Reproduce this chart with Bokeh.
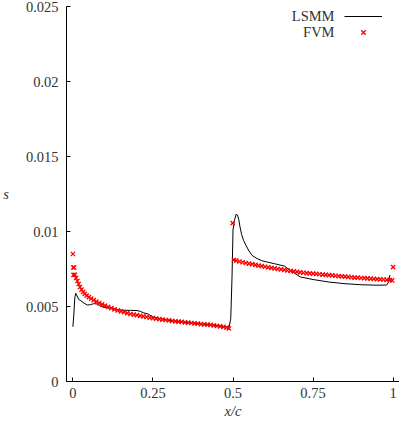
from bokeh.plotting import figure
from bokeh.models import Range1d, FixedTicker, Label, Legend, LegendItem
from bokeh.embed import file_html
from bokeh.resources import INLINE

# ---------------- data ----------------
fvm_x = [0.000, 0.001, 0.004, 0.002, 0.006, 0.010, 0.014, 0.018, 0.022, 0.027,
         0.032, 0.037, 0.043, 0.050, 0.057, 0.065, 0.073, 0.082, 0.091, 0.100,
         0.110, 0.120, 0.130, 0.140, 0.150, 0.160, 0.170, 0.180, 0.190, 0.200,
         0.210, 0.220, 0.230, 0.240, 0.250, 0.260, 0.270, 0.280, 0.290, 0.300,
         0.310, 0.320, 0.330, 0.340, 0.350, 0.360, 0.370, 0.380, 0.390, 0.400,
         0.410, 0.420, 0.430, 0.440, 0.450, 0.460, 0.470, 0.480, 0.487,
         0.499, 0.503, 0.510, 0.520, 0.530, 0.540, 0.550, 0.560, 0.570, 0.580,
         0.590, 0.600, 0.610, 0.620, 0.630, 0.640, 0.650, 0.660, 0.670, 0.680,
         0.690, 0.700, 0.710, 0.720, 0.730, 0.740, 0.750, 0.760, 0.770, 0.780,
         0.790, 0.800, 0.810, 0.820, 0.830, 0.840, 0.850, 0.860, 0.870, 0.880,
         0.890, 0.900, 0.910, 0.920, 0.930, 0.940, 0.950, 0.960, 0.970, 0.980,
         0.990, 0.997, 1.000]
fvm_s = [0.00850, 0.00760, 0.00760, 0.00711, 0.00711, 0.00690, 0.00670, 0.00650, 0.00630, 0.00612,
         0.00597, 0.00584, 0.00572, 0.00562, 0.00552, 0.00542, 0.00533, 0.00522, 0.00514, 0.00506,
         0.00497, 0.00489, 0.00481, 0.00474, 0.00468, 0.00462, 0.00456, 0.00450, 0.00446, 0.00442,
         0.00438, 0.00434, 0.00430, 0.00426, 0.00422, 0.00419, 0.00416, 0.00413, 0.00410, 0.00407,
         0.00404, 0.00401, 0.00399, 0.00397, 0.00394, 0.00392, 0.00390, 0.00388, 0.00386, 0.00383,
         0.00381, 0.00379, 0.00377, 0.00374, 0.00371, 0.00368, 0.00364, 0.00360, 0.00354,
         0.01056, 0.00810, 0.00806, 0.00800, 0.00795, 0.00790, 0.00786, 0.00782, 0.00778, 0.00773,
         0.00769, 0.00765, 0.00761, 0.00757, 0.00754, 0.00750, 0.00747, 0.00744, 0.00740, 0.00737,
         0.00734, 0.00731, 0.00728, 0.00725, 0.00723, 0.00721, 0.00719, 0.00717, 0.00715, 0.00713,
         0.00711, 0.00709, 0.00707, 0.00705, 0.00703, 0.00701, 0.00699, 0.00697, 0.00695, 0.00693,
         0.00692, 0.00690, 0.00689, 0.00688, 0.00686, 0.00684, 0.00683, 0.00681, 0.00680, 0.00678,
         0.00676, 0.00674, 0.00762]

lsmm_x = [0.000, 0.003, 0.006, 0.009, 0.013, 0.018, 0.025, 0.035, 0.045, 0.055,
          0.065, 0.075, 0.085, 0.095, 0.110, 0.125, 0.140, 0.160, 0.180, 0.200,
          0.210, 0.220, 0.235, 0.250, 0.275, 0.300, 0.350, 0.400, 0.450, 0.480,
          0.488, 0.493, 0.497, 0.500, 0.505, 0.510, 0.514, 0.518, 0.522, 0.527,
          0.533, 0.540, 0.550, 0.560, 0.575, 0.590, 0.610, 0.630, 0.660, 0.680,
          0.710, 0.750, 0.800, 0.850, 0.900, 0.950, 0.980, 0.985, 0.990]
lsmm_s = [0.00365, 0.00450, 0.00560, 0.00588, 0.00570, 0.00547, 0.00538, 0.00522, 0.00510, 0.00512,
          0.00519, 0.00517, 0.00506, 0.00496, 0.00490, 0.00485, 0.00479, 0.00475, 0.00474, 0.00473,
          0.00468, 0.00458, 0.00450, 0.00430, 0.00418, 0.00408, 0.00395, 0.00385, 0.00373, 0.00362,
          0.00365, 0.00420, 0.00700, 0.01010, 0.01080, 0.01115, 0.01110, 0.01080, 0.01030, 0.00980,
          0.00940, 0.00910, 0.00870, 0.00840, 0.00820, 0.00805, 0.00795, 0.00785, 0.00770, 0.00740,
          0.00697, 0.00680, 0.00663, 0.00652, 0.00645, 0.00642, 0.00643, 0.00660, 0.00710]

series_names = ["LSMM", "FVM"]
x_ticks = [0, 0.25, 0.5, 0.75, 1]
x_tick_labels = ["0", "0.25", "0.5", "0.75", "1"]
y_ticks = [0, 0.005, 0.01, 0.015, 0.02, 0.025]
y_tick_labels = ["0", "0.005", "0.01", "0.015", "0.02", "0.025"]

FONT = "Liberation Serif"
TXT = "#333333"

p = figure(width=399, height=426, output_backend="svg", toolbar_location=None,
           x_range=Range1d(-0.02, 1.02), y_range=Range1d(0, 0.025),
           min_border_left=65, min_border_right=0, min_border_top=6, min_border_bottom=45)
p.outline_line_color = None
p.xgrid.visible = False
p.ygrid.visible = False
p.background_fill_color = "white"
p.border_fill_color = "white"

line_r = p.line(lsmm_x, lsmm_s, line_color="black", line_width=1)
sc_r = p.scatter(fvm_x, fvm_s, marker="x", size=6, line_color="red", line_width=1.3)

for ax in (p.xaxis[0], p.yaxis[0]):
    ax.axis_line_color = "black"
    ax.axis_line_width = 1
    ax.major_tick_in = 4
    ax.major_tick_out = 0
    ax.major_tick_line_color = "black"
    ax.minor_tick_line_color = None
    ax.major_label_text_font = FONT
    ax.major_label_text_font_size = "14.5px"
    ax.major_label_text_color = TXT
    ax.axis_label_text_font = FONT
    ax.axis_label_text_font_size = "14.5px"
    ax.axis_label_text_font_style = "italic"
    ax.axis_label_text_color = TXT

p.xaxis.ticker = FixedTicker(ticks=x_ticks)
p.xaxis.major_label_overrides = {t: l for t, l in zip(x_ticks, x_tick_labels)}
p.yaxis.ticker = FixedTicker(ticks=y_ticks)
p.yaxis.major_label_overrides = {t: l for t, l in zip(y_ticks, y_tick_labels)}
p.xaxis.major_label_standoff = 6
p.yaxis.major_label_standoff = 8
p.xaxis.axis_label = "x/c"
p.xaxis.axis_label_standoff = 2
p.yaxis.axis_label = "s"
p.yaxis.axis_label_orientation = "horizontal"
p.yaxis.axis_label_standoff = 14

legend = Legend(items=[LegendItem(label=" ", renderers=[line_r]),
                       LegendItem(label=" ", renderers=[sc_r])],
                location=(278, 341), orientation="vertical",
                border_line_color=None, background_fill_alpha=0,
                padding=0, margin=0, spacing=0,
                glyph_width=38, glyph_height=16,
                label_width=0, label_height=16, label_standoff=0,
                label_text_font_size="1px")
p.add_layout(legend)

for i, name in enumerate(series_names):
    p.add_layout(Label(x=268, y=365.5 - 16 * i, x_units="screen", y_units="screen",
                       text=name, text_align="right", text_baseline="middle",
                       text_font=FONT, text_font_size="14.5px", text_color=TXT))

open("out.html", "w").write(file_html(p, INLINE))
